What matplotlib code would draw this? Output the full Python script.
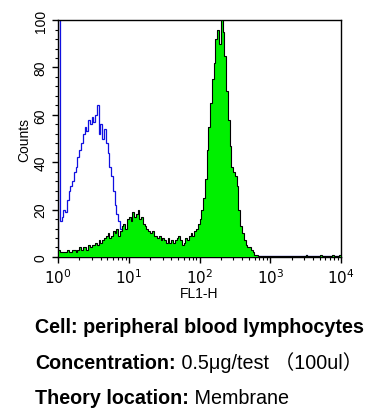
import matplotlib
matplotlib.use("Agg")
import matplotlib.pyplot as plt
from matplotlib.ticker import MultipleLocator
import numpy as np

# histogram bins: log10(FL1-H) edges, 0.025 decade wide (160 bins)
log_edges = np.linspace(0, 4, 161)

# stained sample (green filled)
green_counts = ([3, 2, 2, 2, 2, 3, 2, 2, 3, 3,
                 2, 3, 4, 3, 4, 4, 3, 5, 4, 5,
                 5, 6, 5, 7, 6, 7, 8, 9, 10, 8,
                 9, 11, 10, 12, 9, 11, 13, 14, 12, 16,
                 17, 15, 19, 17, 18, 20, 16, 17, 14, 13,
                 12, 11, 10, 11, 9, 9, 8, 9, 7, 8,
                 7, 6, 8, 6, 7, 6, 7, 8, 9, 7,
                 5, 6, 8, 7, 9, 10, 9, 11, 12, 14,
                 16, 20, 25, 33, 45, 55, 65, 75, 82, 92,
                 96, 90, 100, 95, 85, 70, 58, 47, 38, 36,
                 34, 30, 20, 13, 10, 7, 5, 4, 4, 3,
                 2, 1, 1, 0.5]
                + [0.3] * 26 + [1.0] + [0.3] * 7 + [1.0] + [0.3] * 6 + [1.0] + [0.3] * 3 + [1.0])

# isotype control (blue outline)
blue_counts = ([110, 15, 17, 20, 19, 24, 28, 30, 32, 36,
                38, 42, 45, 48, 52, 55, 53, 58, 56, 59,
                57, 60, 64, 52, 56, 50, 54, 48, 44, 38,
                34, 28, 22, 18, 15, 12, 11, 9, 8, 7,
                6, 5, 4, 4, 3, 2, 2, 1, 1]
               + [0.3] * 91 + [1.0] + [0.3] * 19)

yticks = [0, 20, 40, 60, 80, 100]

plt.rcParams['font.family'] = ['Liberation Sans', 'Noto Sans CJK SC']

fig = plt.figure(figsize=(3.74, 4.14), dpi=100)
ax = fig.add_axes([0.155, 0.377, 0.757, 0.572])

edges = 10 ** log_edges
ax.stairs(blue_counts, edges, color='#1010e0', linewidth=0.9, zorder=2)
ax.stairs(green_counts, edges, fill=True, color='#00f000', zorder=3)
ax.stairs(green_counts, edges, color='black', linewidth=0.8, zorder=4)

ax.set_xscale('log')
ax.set_xlim(1, 1e4)
ax.set_ylim(0, 100)
ax.set_yticks(yticks)
ax.yaxis.set_minor_locator(MultipleLocator(4))
ax.set_yticklabels([str(v) for v in yticks], rotation=90, va='center', fontsize=10)
ax.set_xticks([1, 10, 100, 1000, 10000])
ax.set_xticklabels([r'$10^{%d}$' % i for i in range(5)], fontsize=11)
ax.tick_params(direction='out', length=4, width=1)
ax.tick_params(which='minor', direction='out', length=2.5, width=0.8)
ax.set_ylabel('Counts', fontsize=10, labelpad=2)
ax.set_xlabel('FL1-H', fontsize=10, labelpad=0)
for s in ax.spines.values():
    s.set_linewidth(1)

# caption lines: bold label + regular value
lines = [("Cell: peripheral blood lymphocytes", ""),
         ("Concentration:", " 0.5\u03bcg/test \uff08100ul\uff09"),
         ("Theory location:", " Membrane")]
ys = [1 - 333 / 414, 1 - 369 / 414, 1 - 404 / 414]
renderer = fig.canvas.get_renderer()
for (bold, rest), y in zip(lines, ys):
    t = fig.text(35 / 374, y, bold, fontsize=14.2, fontweight='bold', va='baseline')
    if rest:
        bb = t.get_window_extent(renderer)
        fig.text(bb.x1 / fig.bbox.width, y, rest, fontsize=14.2, va='baseline')

fig.savefig('out.png', dpi=100)
